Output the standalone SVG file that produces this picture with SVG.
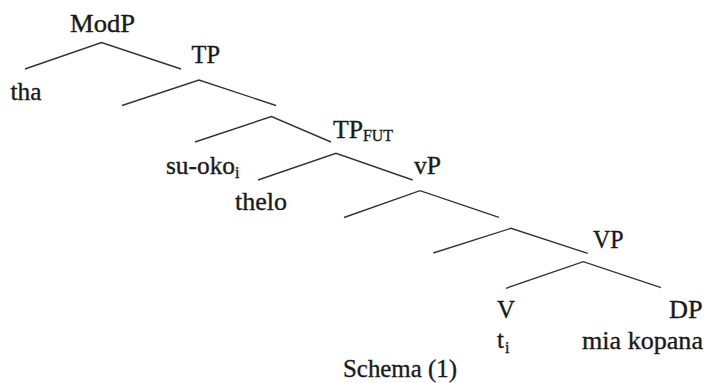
<svg xmlns="http://www.w3.org/2000/svg" width="707" height="383" viewBox="0 0 707 383">
  <style>
    .lbl { font-family: "Liberation Serif", "Times New Roman", serif; font-size: 25px; fill: #1a1a1a; stroke: #1a1a1a; stroke-width: 0.35; }
    .sub { font-size: 16px; }
    .edge { fill: none; stroke: #333; stroke-width: 1.4; stroke-linejoin: miter; }
  </style>
  <rect width="707" height="383" fill="#ffffff"/>
  <g id="connectors">
    <polyline class="edge" points="25,69 101.5,42.5 181,69"/>
    <polyline class="edge" points="122,105.5 199,80 276,105.5"/>
    <polyline class="edge" points="195,142 271.5,116.5 331,142"/>
    <polyline class="edge" points="258,180 336,153.3 412.7,180"/>
    <polyline class="edge" points="344,217.5 420,190.7 499,217.3"/>
    <polyline class="edge" points="433.3,253 511,228.3 587.7,253.3"/>
    <polyline class="edge" points="506,288.3 583.3,261.7 661,287.7"/>
  </g>
  <g id="ModP"><text class="lbl" x="70" y="32" textLength="65" lengthAdjust="spacingAndGlyphs">ModP</text></g>
  <g id="tha"><text class="lbl" x="10.5" y="100" textLength="31" lengthAdjust="spacingAndGlyphs">tha</text></g>
  <g id="TP"><text class="lbl" x="191.5" y="62.7" textLength="28.5" lengthAdjust="spacingAndGlyphs">TP</text></g>
  <g id="su-oko"><text class="lbl" x="166" y="174"><tspan textLength="69" lengthAdjust="spacingAndGlyphs">su-oko</tspan><tspan class="sub" dy="3.5">i</tspan></text></g>
  <g id="TPFUT"><text class="lbl" x="333" y="137.7"><tspan textLength="30" lengthAdjust="spacingAndGlyphs">TP</tspan><tspan class="sub" x="363" y="140.7" textLength="30" lengthAdjust="spacingAndGlyphs">FUT</tspan></text></g>
  <g id="thelo"><text class="lbl" x="235" y="210" textLength="52" lengthAdjust="spacingAndGlyphs">thelo</text></g>
  <g id="vP"><text class="lbl" x="414" y="173.5" textLength="27" lengthAdjust="spacingAndGlyphs">vP</text></g>
  <g id="VP"><text class="lbl" x="593" y="248.3" textLength="30.5" lengthAdjust="spacingAndGlyphs">VP</text></g>
  <g id="V"><text class="lbl" x="497" y="318.3" textLength="18" lengthAdjust="spacingAndGlyphs">V</text></g>
  <g id="DP"><text class="lbl" x="669" y="318.3" textLength="33.5" lengthAdjust="spacingAndGlyphs">DP</text></g>
  <g id="ti"><text class="lbl" x="497" y="348">t<tspan class="sub" x="505" y="352.5">i</tspan></text></g>
  <g id="mia-kopana"><text class="lbl" x="582" y="348.5" textLength="121" lengthAdjust="spacingAndGlyphs">mia kopana</text></g>
  <g id="caption"><text class="lbl" x="343" y="377" textLength="114" lengthAdjust="spacingAndGlyphs">Schema (1)</text></g>
</svg>
